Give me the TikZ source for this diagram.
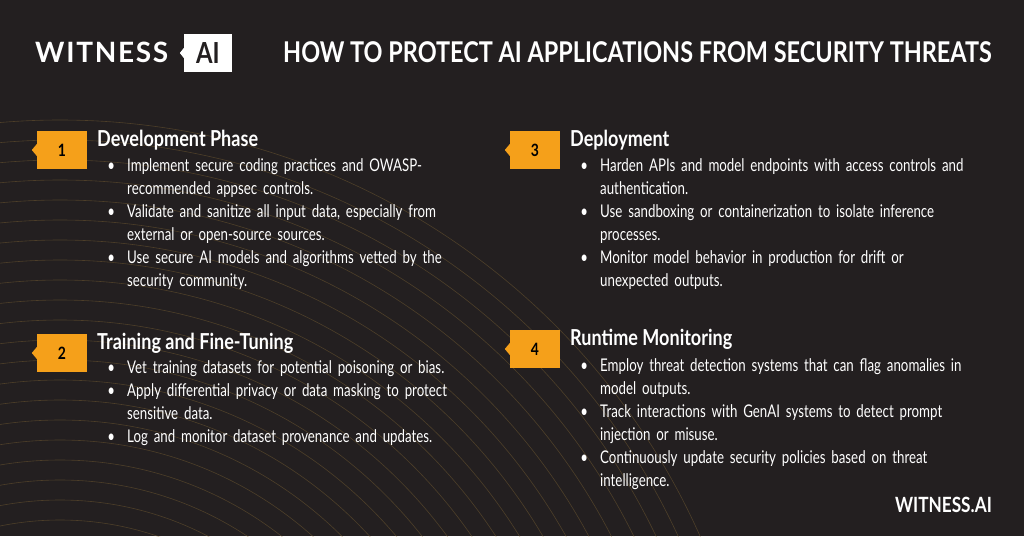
\documentclass[tikz,border=0pt]{standalone}
\usepackage{fontspec}
\setmainfont[FakeStretch=0.82]{Lato}
\newfontfamily\bodyfont[FakeStretch=0.76]{Lato}
\newfontfamily\logofont[LetterSpace=6]{Lato}
\usepackage{enumitem}
\definecolor{bgdark}{HTML}{231F20}
\definecolor{badgeorange}{HTML}{F5A01A}
\definecolor{arcgold}{HTML}{9C7A3A}
\tikzset{
  badge/.style={fill=badgeorange, minimum width=50pt, minimum height=38pt, inner sep=0pt, font=\fontsize{17}{17}\selectfont\bfseries, text=black},
  heading/.style={anchor=west, text=white, font=\fontsize{22}{24}\selectfont\bfseries, inner sep=0pt},
  itemlist/.style={anchor=north west, text=white, text width=350pt, inner sep=0pt, font=\bodyfont\fontsize{17.5}{23}\selectfont}
}
\newcommand{\badgenotch}[1]{\fill[badgeorange] ([yshift=6pt]#1.west) -- ++(-5pt,-6pt) -- ++(5pt,-6pt) -- cycle;}
\setlist[itemize]{label=\textbullet, leftmargin=19pt, labelsep=12pt, itemsep=0pt, topsep=0pt, parsep=0pt}
\begin{document}
\begin{tikzpicture}[x=1pt,y=-1pt]
  \fill[bgdark] (0,0) rectangle (1024,536);
  \useasboundingbox (0,0) rectangle (1024,536);
  % arcs
  \begin{scope}
    \clip (0,0) rectangle (1024,536);
    \foreach \r in {260,280,...,700}
      \draw[arcgold, opacity=0.35, line width=0.6pt] (60,820) circle (\r);
  \end{scope}
  % logo and title
  \node (logo) [anchor=west, text=white, inner sep=0pt, font=\logofont\fontsize{28}{28}\selectfont\bfseries] at (35,52) {WITNESS};
  \node (logoai) [fill=white, text=bgdark, inner sep=0pt, minimum width=48pt, minimum height=38pt, font=\fontsize{29}{29}\selectfont\bfseries] at (208,53) {AI};
  \fill[white] ([yshift=5pt]logoai.west) -- ++(-4pt,-5pt) -- ++(4pt,-5pt) -- cycle;
  \node (title) [anchor=west, text=white, inner sep=0pt, font=\fontsize{28.6}{28}\selectfont\bfseries] at (283,52) {HOW TO PROTECT AI APPLICATIONS FROM SECURITY THREATS};
  % section 1
  \node (b1) [badge] at (62,150) {1};
  \badgenotch{b1}
  \node (h1) [heading] at (97,140) {Development Phase};
  \node (l1) [itemlist] at (108,148) {\begin{itemize}
    \item Implement secure coding practices and OWASP-\linebreak recommended appsec controls.
    \item Validate and sanitize all input data, especially from external or open-source sources.
    \item Use secure AI models and algorithms vetted by the security community.
  \end{itemize}};
  % section 2
  \node (b2) [badge] at (62,353) {2};
  \badgenotch{b2}
  \node (h2) [heading] at (97,343) {Training and Fine-Tuning};
  \node (l2) [itemlist] at (108,350) {\begin{itemize}
    \item Vet training datasets for potential poisoning or bias.
    \item Apply differential privacy or data masking to protect sensitive data.
    \item Log and monitor dataset provenance and updates.
  \end{itemize}};
  % section 3
  \node (b3) [badge] at (535,150) {3};
  \badgenotch{b3}
  \node (h3) [heading] at (570,140) {Deployment};
  \node (l3) [itemlist, text width=385pt] at (581,148) {\begin{itemize}
    \item Harden APIs and model endpoints with access controls and authentication.
    \item Use sandboxing or containerization to isolate inference processes.
    \item Monitor model behavior in production for drift or unexpected outputs.
  \end{itemize}};
  % section 4
  \node (b4) [badge] at (535,349) {4};
  \badgenotch{b4}
  \node (h4) [heading] at (570,339) {Runtime Monitoring};
  \node (l4) [itemlist, text width=385pt] at (581,348) {\begin{itemize}
    \item Employ threat detection systems that can flag anomalies in model outputs.
    \item Track interactions with GenAI systems to detect prompt injection or misuse.
    \item Continuously update security policies based on threat intelligence.
  \end{itemize}};
  \node (site) [anchor=east, text=white, inner sep=0pt, font=\fontsize{21}{21}\selectfont\bfseries] at (992,505) {WITNESS.AI};
\end{tikzpicture}
\end{document}
